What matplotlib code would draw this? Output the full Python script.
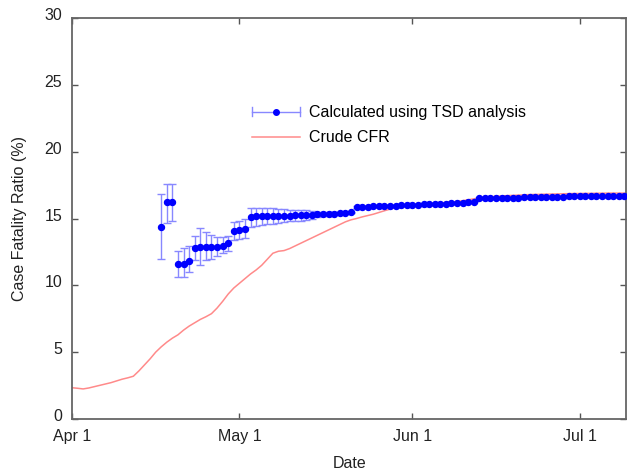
import numpy as np
import pandas as pd
import matplotlib
matplotlib.use('Agg')
import matplotlib.pyplot as plt
import matplotlib.transforms as mtransforms
from matplotlib.lines import Line2D
from matplotlib.legend_handler import HandlerBase

plt.rcParams['font.family'] = ['Liberation Sans', 'DejaVu Sans']

# Crude CFR, one value per day from Apr 1
crude_start = '2009-04-01'
crude_cfr = [
    2.34, 2.30, 2.25, 2.32, 2.42, 2.52, 2.62, 2.72, 2.85, 2.98,
    3.08, 3.20, 3.60, 4.05, 4.50, 5.00, 5.40, 5.75, 6.05, 6.30,
    6.65, 6.95, 7.20, 7.45, 7.65, 7.88, 8.30, 8.80, 9.35, 9.80,
    10.15, 10.50, 10.85, 11.15, 11.50, 11.95, 12.40, 12.55, 12.60, 12.75,
    12.95, 13.15, 13.35, 13.55, 13.75, 13.95, 14.15, 14.35, 14.55, 14.75,
    14.90, 15.00, 15.12, 15.22, 15.32, 15.45, 15.58, 15.70, 15.82, 15.92,
    16.00, 16.05, 16.08, 16.10, 16.12, 16.15, 16.17, 16.20, 16.24, 16.28,
    16.33, 16.40, 16.47, 16.55, 16.60, 16.63, 16.66, 16.69, 16.71, 16.73,
    16.75, 16.77, 16.79, 16.80, 16.81, 16.82, 16.83, 16.84, 16.85, 16.86,
    16.87, 16.87, 16.88, 16.88, 16.89, 16.89, 16.90, 16.90, 16.90, 16.90,
]

# TSD estimate, one value per day from Apr 17
tsd_start = '2009-04-17'
tsd_cfr = [
    14.40, 16.20, 16.25, 11.60, 11.60, 11.80, 12.83, 12.90, 12.90, 12.90,
    12.90, 12.98, 13.16, 14.08, 14.15, 14.25, 15.13, 15.15, 15.17, 15.18,
    15.20, 15.20, 15.22, 15.22, 15.23, 15.25, 15.26, 15.28, 15.30, 15.32,
    15.34, 15.37, 15.40, 15.43, 15.45, 15.85, 15.87, 15.88, 15.90, 15.92,
    15.93, 15.95, 15.97, 15.98, 16.00, 16.02, 16.03, 16.05, 16.07, 16.08,
    16.10, 16.12, 16.14, 16.16, 16.18, 16.20, 16.25, 16.50, 16.51, 16.52,
    16.53, 16.54, 16.55, 16.56, 16.57, 16.58, 16.59, 16.60, 16.61, 16.62,
    16.62, 16.63, 16.64, 16.65, 16.65, 16.66, 16.67, 16.67, 16.68, 16.68,
    16.69, 16.69, 16.70, 16.70,
]
tsd_lo = [
    12.00, 14.70, 14.85, 10.60, 10.60, 11.00, 11.90, 11.50, 11.90, 12.00,
    12.20, 12.40, 12.60, 13.40, 13.45, 13.57, 14.40, 14.45, 14.52, 14.58,
    14.62, 14.68, 14.72, 14.78, 14.82, 14.85, 14.90, 14.98, 15.10, 15.17,
    15.22, 15.27, 15.32, 15.36, 15.40, 15.80, 15.82, 15.84, 15.86, 15.88,
    15.89, 15.91, 15.93, 15.94, 15.96, 15.98, 15.99, 16.01, 16.03, 16.04,
    16.06, 16.08, 16.10, 16.12, 16.14, 16.16, 16.21, 16.46, 16.47, 16.48,
    16.49, 16.50, 16.51, 16.52, 16.53, 16.54, 16.55, 16.56, 16.57, 16.58,
    16.58, 16.59, 16.60, 16.61, 16.61, 16.62, 16.63, 16.63, 16.64, 16.64,
    16.65, 16.65, 16.66, 16.66,
]
tsd_hi = [
    16.80, 17.60, 17.60, 12.60, 12.80, 12.95, 13.70, 14.30, 14.00, 13.80,
    13.65, 13.60, 13.70, 14.76, 14.80, 14.93, 15.80, 15.80, 15.80, 15.78,
    15.75, 15.72, 15.70, 15.66, 15.64, 15.62, 15.60, 15.58, 15.50, 15.47,
    15.46, 15.47, 15.48, 15.50, 15.50, 15.90, 15.92, 15.92, 15.94, 15.96,
    15.97, 15.99, 16.01, 16.02, 16.04, 16.06, 16.07, 16.09, 16.11, 16.12,
    16.14, 16.16, 16.18, 16.20, 16.22, 16.24, 16.29, 16.54, 16.55, 16.56,
    16.57, 16.58, 16.59, 16.60, 16.61, 16.62, 16.63, 16.64, 16.65, 16.66,
    16.66, 16.67, 16.68, 16.69, 16.69, 16.70, 16.71, 16.71, 16.72, 16.72,
    16.73, 16.73, 16.74, 16.74,
]

labels = ['Calculated using TSD analysis', 'Crude CFR']
x_ticks = ['2009-04-01', '2009-05-01', '2009-06-01', '2009-07-01']
x_tick_labels = ['Apr 1', 'May 1', 'Jun 1', 'Jul 1']
y_ticks = [0, 5, 10, 15, 20, 25, 30]

crude_dates = pd.date_range(crude_start, periods=len(crude_cfr), freq='D')
tsd_dates = pd.date_range(tsd_start, periods=len(tsd_cfr), freq='D')
tsd = np.array(tsd_cfr)
yerr = [tsd - np.array(tsd_lo), np.array(tsd_hi) - tsd]

err_color = '#8888ff'
red = '#ff8a8a'


# legend entry drawn like gnuplot: horizontal bar with caps and a dot
class ErrHandler(HandlerBase):
    def create_artists(self, legend, orig, xd, yd, width, height, fontsize, trans):
        y = height / 2 - yd
        x0, x1 = -xd, -xd + width
        line = Line2D([x0, x1], [y, y], color=err_color, lw=1, transform=trans)
        c0 = Line2D([x0, x0], [y - 3, y + 3], color=err_color, lw=1, transform=trans)
        c1 = Line2D([x1, x1], [y - 3, y + 3], color=err_color, lw=1, transform=trans)
        dot = Line2D([(x0 + x1) / 2], [y], marker='o', ms=4, color='#0000ff',
                     lw=0, transform=trans)
        return [line, c0, c1, dot]


fig = plt.figure(figsize=(6.28, 4.70), dpi=100)
ax = fig.add_axes([0.1146, 0.1085, 0.8830, 0.8532])

ax.plot(crude_dates, crude_cfr, color=red, lw=1.1, zorder=2)
ax.errorbar(tsd_dates, tsd, yerr=yerr, fmt='o', ms=4.3, color='#0000ff',
            ecolor=err_color, elinewidth=1, capsize=3, capthick=1, zorder=3)

ax.set_ylim(0, 30)
ax.set_yticks(y_ticks)
ax.set_xlim(pd.Timestamp('2009-04-01'), pd.Timestamp('2009-07-09 09:00'))
ax.set_xticks(pd.to_datetime(x_ticks))
ax.set_xticklabels(x_tick_labels)

ax.tick_params(direction='in', length=4, width=1, top=True, right=True,
               labelsize=11.5, colors='#555555', labelcolor='#222222')
ax.tick_params(axis='x', pad=7.5)
ax.tick_params(axis='y', pad=7)
for s in ax.spines.values():
    s.set_color('#666666')
    s.set_linewidth(1.3)

# y tick labels sit a little above their ticks in the original
shift = mtransforms.ScaledTranslation(0, 0.04, fig.dpi_scale_trans)
for lab in ax.get_yticklabels():
    lab.set_transform(lab.get_transform() + shift)

ax.set_xlabel('Date', fontsize=11.5, color='#222222', labelpad=8)
ax.set_ylabel('Case Fatality Ratio (%)', fontsize=11.5, color='#222222', labelpad=12.5)

h1 = Line2D([], [])
h2 = Line2D([], [], color=red, lw=1.1)
ax.legend([h1, h2], labels, handler_map={h1: ErrHandler()},
          loc='upper left', bbox_to_anchor=(0.3246, 0.7825), frameon=False,
          fontsize=11.5, handlelength=3.0, handletextpad=0.55,
          labelspacing=0.64, borderpad=0, borderaxespad=0)

fig.savefig('out.png', dpi=100)
